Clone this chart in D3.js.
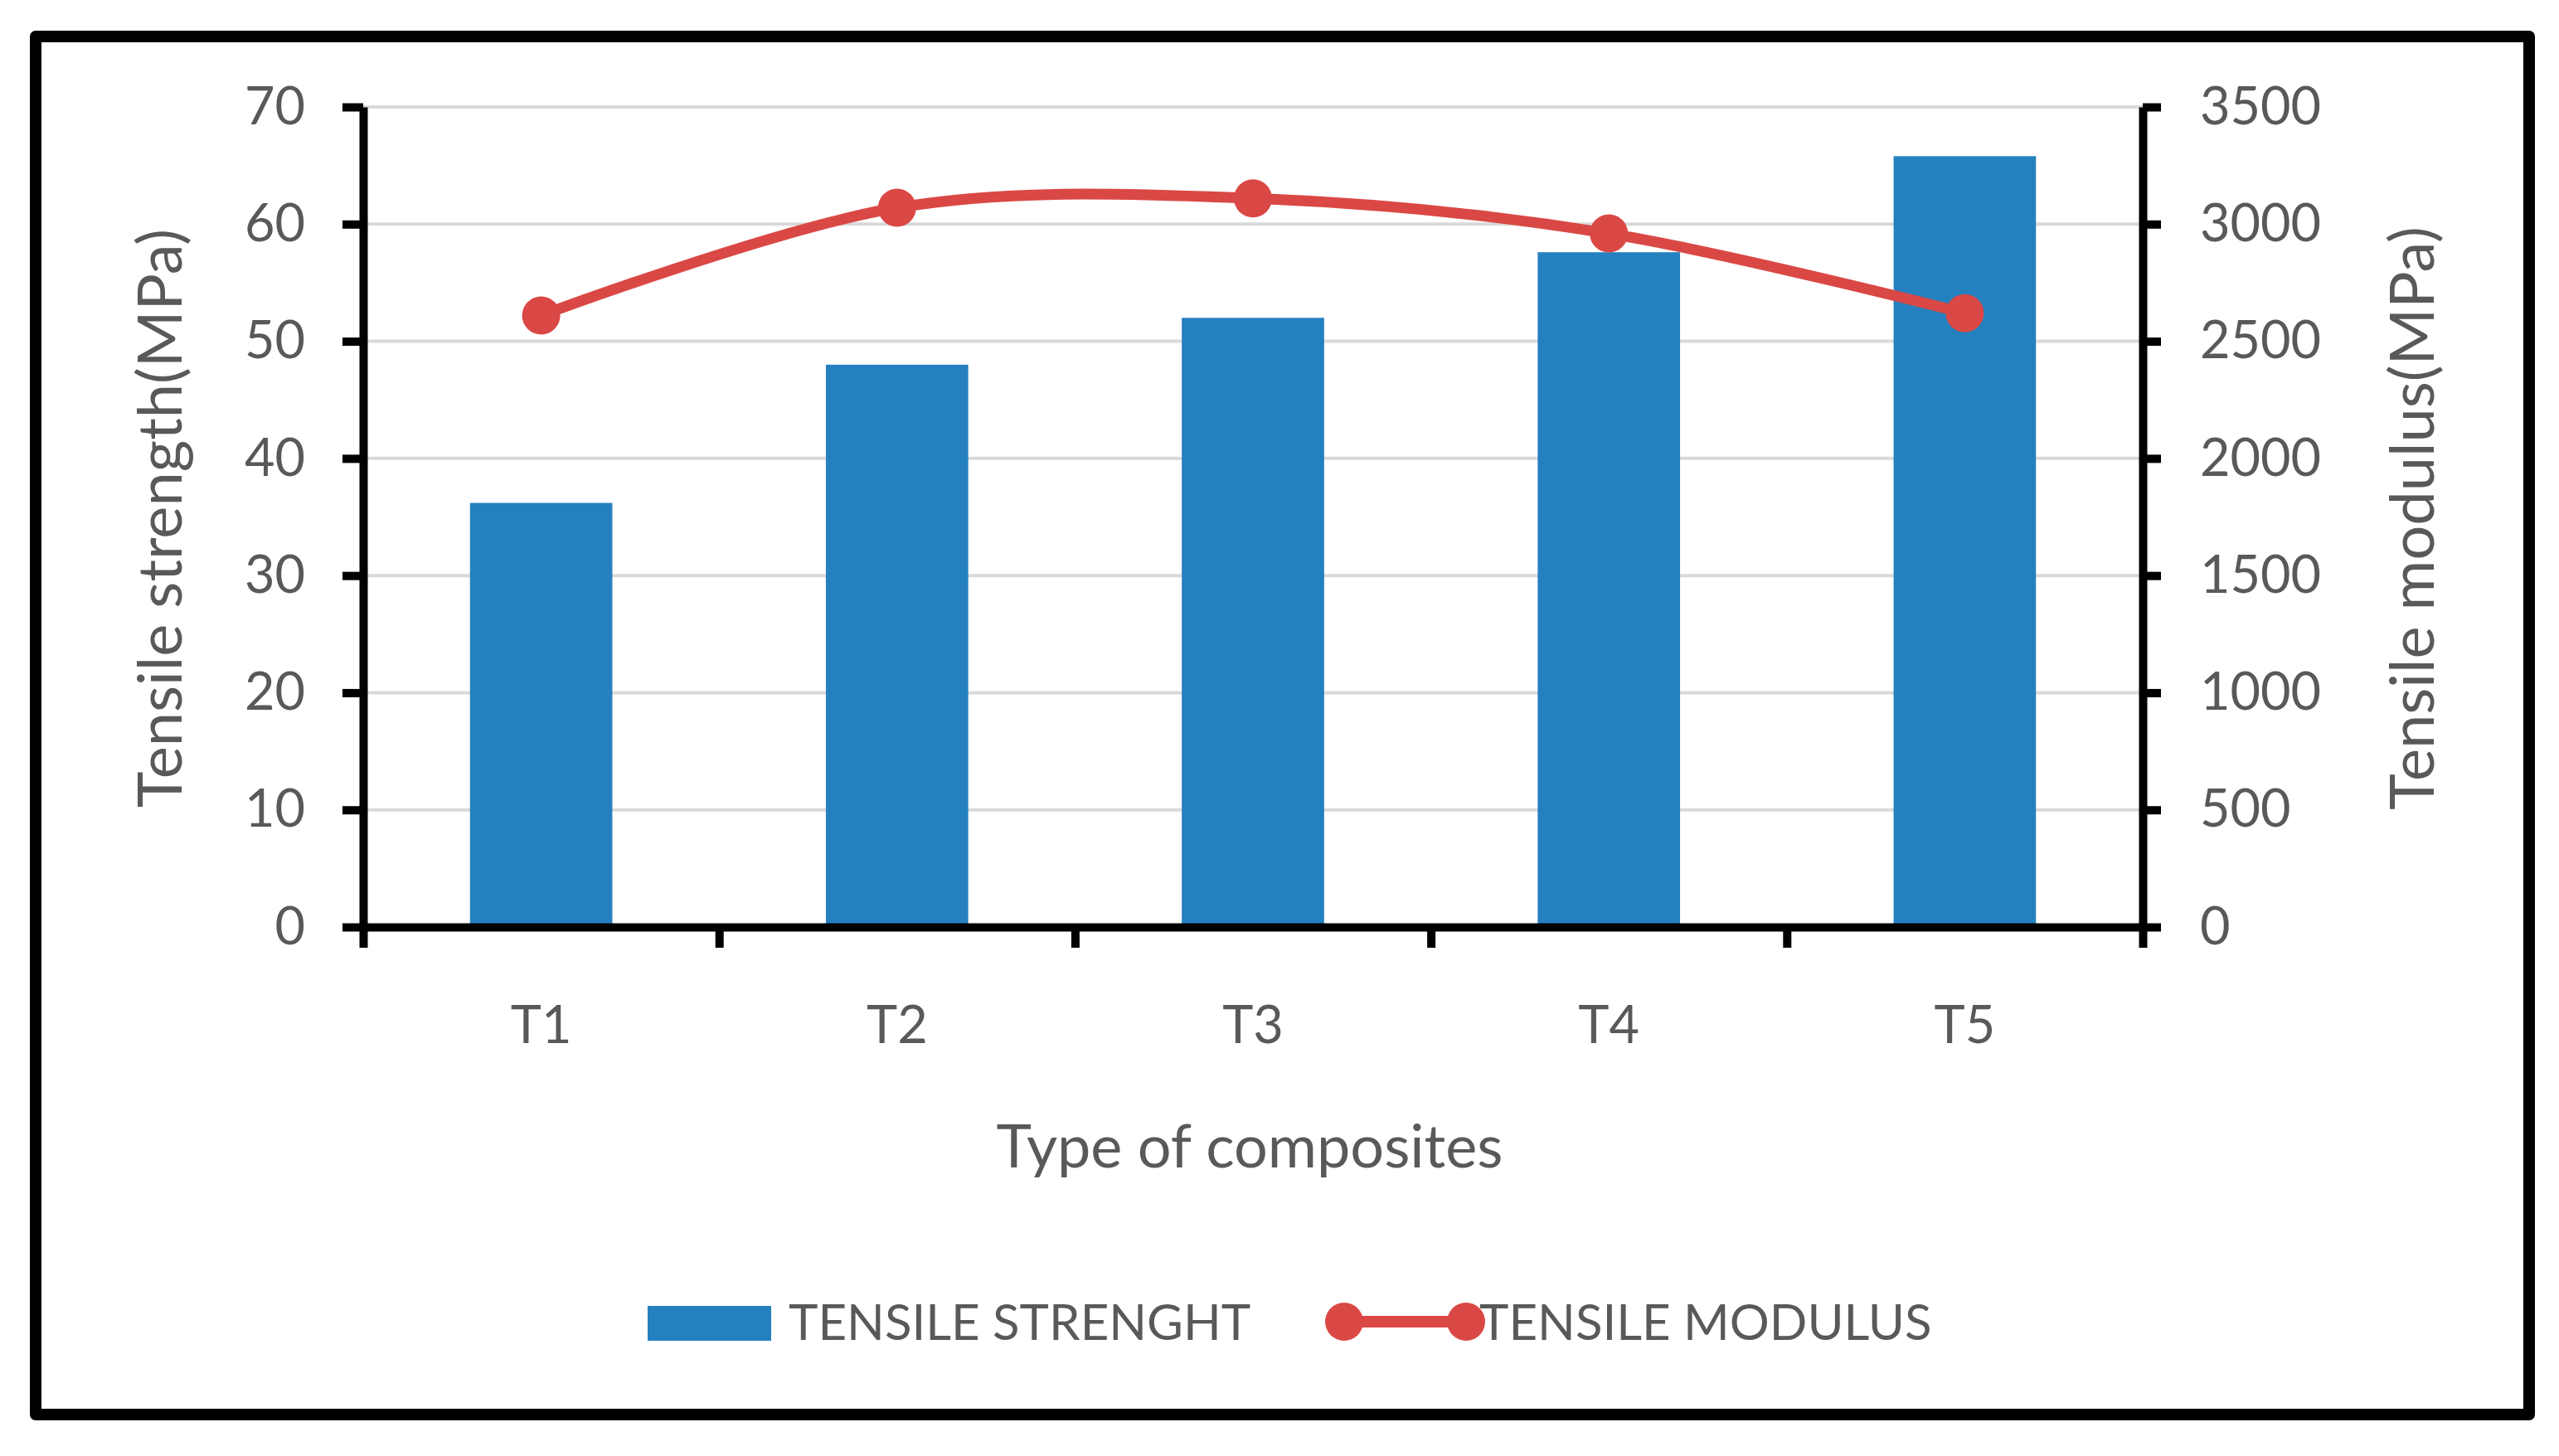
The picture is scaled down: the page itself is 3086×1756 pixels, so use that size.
<!DOCTYPE html>
<html>
<head>
<meta charset="utf-8">
<script src="https://cdn.jsdelivr.net/npm/d3@7"></script>
<style>
  html, body { margin: 0; padding: 0; background: #fff; }
  text { font-family: Lato, "Open Sans", sans-serif; fill: #595959; }
</style>
</head>
<body>
<svg id="chart" width="3086" height="1756"></svg>
<script>
// ---- data ----
const categories = ["T1", "T2", "T3", "T4", "T5"];
const tensileStrength = [36.2, 48.0, 52.0, 57.6, 65.8];      // MPa, left axis (bars)
const tensileModulus = [2610, 3070, 3110, 2960, 2620];        // MPa, right axis (line)
const leftTicks = [0, 10, 20, 30, 40, 50, 60, 70];
const rightTicks = [0, 500, 1000, 1500, 2000, 2500, 3000, 3500];
const seriesNames = ["TENSILE STRENGHT", "TENSILE MODULUS"];
const xTitle = "Type of composites";
const yLeftTitle = "Tensile strength(MPa)";
const yRightTitle = "Tensile modulus(MPa)";

// ---- layout ----
const W = 3086, H = 1756;
const plot = { left: 438, right: 2584, top: 129, bottom: 1118 };
const barColor = "#2580bf";
const lineColor = "#da4845";
const fs = 63;

const svg = d3.select("#chart");
svg.append("rect").attr("width", W).attr("height", H).attr("fill", "#fff");

// outer border
svg.append("rect")
  .attr("x", 43).attr("y", 44).attr("width", 3007).attr("height", 1662)
  .attr("fill", "none").attr("stroke", "#000").attr("stroke-width", 14)
  .attr("stroke-linejoin", "round");

const x = d3.scaleBand().domain(categories).range([plot.left, plot.right])
  .paddingInner(0.6).paddingOuter(0.3);
const xb = d3.scaleLinear().domain([0, categories.length]).range([plot.left, plot.right]);
const yL = d3.scaleLinear().domain([0, 70]).range([plot.bottom, plot.top]);
const yR = d3.scaleLinear().domain([0, 3500]).range([plot.bottom, plot.top]);

// gridlines
svg.append("g").selectAll("line").data(leftTicks.filter(d => d > 0)).join("line")
  .attr("x1", plot.left).attr("x2", plot.right)
  .attr("y1", d => yL(d)).attr("y2", d => yL(d))
  .attr("stroke", "#d9d9d9").attr("stroke-width", 4);

// bars
svg.append("g").selectAll("rect").data(categories).join("rect")
  .attr("x", d => x(d)).attr("width", x.bandwidth())
  .attr("y", (d, i) => yL(tensileStrength[i]))
  .attr("height", (d, i) => yL(0) - yL(tensileStrength[i]))
  .attr("fill", barColor);

// axes
function styleAxis(g) {
  g.selectAll("path.domain").attr("stroke", "#000").attr("stroke-width", 10);
  g.selectAll(".tick line").attr("stroke", "#000").attr("stroke-width", 10);
  g.selectAll("text").style("font-family", "Lato, 'Open Sans', sans-serif")
    .style("font-size", fs + "px").attr("fill", "#595959");
}

const gL = svg.append("g").attr("transform", `translate(${plot.left},0)`)
  .call(d3.axisLeft(yL).tickValues(leftTicks).tickSize(25).tickSizeOuter(0).tickPadding(45));
styleAxis(gL);

const gR = svg.append("g").attr("transform", `translate(${plot.right},0)`)
  .call(d3.axisRight(yR).tickValues(rightTicks).tickFormat(d3.format("d"))
    .tickSize(22).tickSizeOuter(0).tickPadding(47));
styleAxis(gR);

const gXT = svg.append("g").attr("transform", `translate(0,${plot.bottom})`)
  .call(d3.axisBottom(xb).tickValues(d3.range(0, categories.length + 1)).tickFormat("")
    .tickSize(25).tickSizeOuter(0));
styleAxis(gXT);

const gX = svg.append("g").attr("transform", `translate(0,${plot.bottom})`)
  .call(d3.axisBottom(x).tickSize(0).tickPadding(0));
gX.select("path.domain").remove();
styleAxis(gX);
gX.selectAll("text").attr("y", 140).attr("dy", null);

// line series
const pts = categories.map((c, i) => [x(c) + x.bandwidth() / 2, yR(tensileModulus[i])]);
svg.append("path")
  .attr("d", d3.line().curve(d3.curveCardinal.tension(0))(pts))
  .attr("fill", "none").attr("stroke", lineColor).attr("stroke-width", 13)
  .attr("stroke-linecap", "round");
svg.append("g").selectAll("circle").data(pts).join("circle")
  .attr("cx", d => d[0]).attr("cy", d => d[1]).attr("r", 23).attr("fill", lineColor);

// axis titles
svg.append("text").attr("x", 1507).attr("y", 1408).attr("text-anchor", "middle")
  .style("font-size", "72px").text(xTitle);
svg.append("text").attr("transform", "translate(219,625) rotate(-90)")
  .attr("text-anchor", "middle").style("font-size", "74px").text(yLeftTitle);
svg.append("text").attr("transform", "translate(2935,625) rotate(-90)")
  .attr("text-anchor", "middle").style("font-size", "74px").text(yRightTitle);

// legend
const lfs = 60;
const lg = svg.append("g");
lg.append("rect").attr("x", 781).attr("y", 1575).attr("width", 149).attr("height", 42).attr("fill", barColor);
lg.append("text").attr("x", 951).attr("y", 1616).style("font-size", lfs + "px").text(seriesNames[0]);
lg.append("line").attr("x1", 1621).attr("x2", 1768).attr("y1", 1594).attr("y2", 1594)
  .attr("stroke", lineColor).attr("stroke-width", 14);
lg.selectAll("circle").data([1621, 1768]).join("circle")
  .attr("cx", d => d).attr("cy", 1594).attr("r", 23).attr("fill", lineColor);
lg.append("text").attr("x", 1784).attr("y", 1616).style("font-size", lfs + "px").text(seriesNames[1]);
</script>
</body>
</html>
